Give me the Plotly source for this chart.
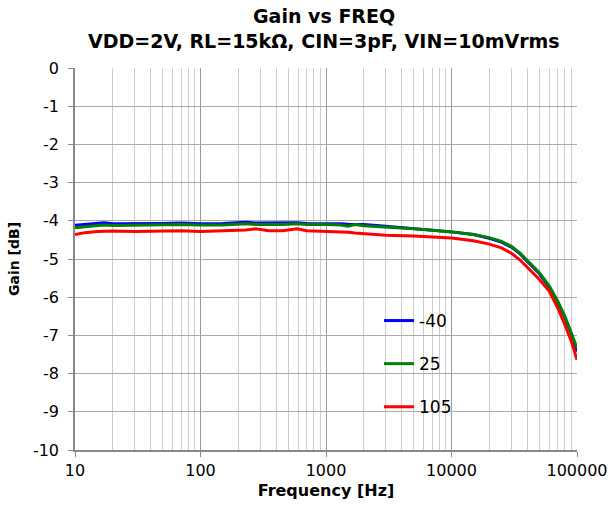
import plotly.graph_objects as go

freq = [10, 12, 15, 17, 20, 30, 50, 70, 100, 150, 230, 275, 350, 450, 590, 700,
        1000, 1300, 1500, 1700, 2000, 3000, 5000, 7000, 10000, 15000, 20000,
        25000, 30000, 35000, 40000, 45000, 50000, 60000, 70000, 80000, 90000, 100000]

gain_m40 = [-4.12, -4.10, -4.08, -4.05, -4.08, -4.08, -4.07, -4.06, -4.08, -4.07, -4.04,
            -4.06, -4.06, -4.06, -4.05, -4.07, -4.07, -4.08, -4.09, -4.09, -4.10, -4.14,
            -4.20, -4.24, -4.29, -4.36, -4.46, -4.56, -4.69, -4.86, -5.06, -5.22, -5.38,
            -5.73, -6.12, -6.53, -6.95, -7.42]
gain_25 = [-4.18, -4.15, -4.12, -4.11, -4.12, -4.11, -4.11, -4.10, -4.11, -4.11, -4.08,
           -4.10, -4.10, -4.10, -4.08, -4.10, -4.10, -4.11, -4.14, -4.10, -4.13, -4.16,
           -4.21, -4.25, -4.29, -4.36, -4.44, -4.54, -4.67, -4.84, -5.04, -5.20, -5.35,
           -5.70, -6.10, -6.50, -6.92, -7.33]
gain_105 = [-4.36, -4.31, -4.28, -4.27, -4.27, -4.28, -4.27, -4.26, -4.28, -4.27, -4.24,
            -4.21, -4.26, -4.26, -4.21, -4.26, -4.27, -4.29, -4.30, -4.32, -4.34, -4.38,
            -4.40, -4.42, -4.45, -4.52, -4.61, -4.71, -4.85, -5.02, -5.22, -5.38, -5.53,
            -5.84, -6.27, -6.72, -7.15, -7.64]

series_names = ["-40", "25", "105"]
series_colors = ["#0000FF", "#008000", "#FF0000"]

title_lines = ["Gain vs FREQ", "VDD=2V, RL=15kΩ, CIN=3pF, VIN=10mVrms"]

x_tickvals = [10, 100, 1000, 10000, 100000]
x_ticktext = ["10", "100", "1000", "10000", "100000"]
y_tickvals = list(range(-10, 1))
y_ticktext = ["-10", "-9", "-8", "-7", "-6", "-5", "-4", "-3", "-2", "-1", "0"]

FONT = "DejaVu Sans, Liberation Sans, Arial, sans-serif"
L, R, T, B = 75, 577, 68, 450
PW, PH = R - L, B - T

fig = go.Figure()
for name, ys, col in zip(series_names, [gain_m40, gain_25, gain_105], series_colors):
    fig.add_trace(go.Scatter(x=freq, y=ys, mode="lines", name=name, legendgroup=name,
                             line=dict(color=col, width=3)))

annotations = []
for txt, ypx in zip(title_lines, [16, 41]):
    annotations.append(dict(text=f"<b>{txt}</b>", xref="paper", yref="paper",
                            x=(324 - L) / PW, y=(B - ypx) / PH,
                            xanchor="center", yanchor="middle", showarrow=False,
                            font=dict(size=19, family=FONT, color="black")))

fig.update_layout(
    width=611, height=514,
    margin=dict(l=L, r=611 - R, t=T, b=514 - B, autoexpand=False),
    paper_bgcolor="white", plot_bgcolor="white",
    font=dict(family=FONT, color="black"),
    showlegend=True,
    legend=dict(x=(379 - L) / PW, xanchor="left", y=(B - 303) / PH, yanchor="top",
                bgcolor="rgba(0,0,0,0)", borderwidth=0, tracegroupgap=18,
                font=dict(size=17, family=FONT)),
    annotations=annotations,
    shapes=[dict(type="rect", xref="paper", yref="paper",
                 x0=(368 - L) / PW, x1=(500 - L) / PW,
                 y0=(B - 428) / PH, y1=(B - 298) / PH,
                 fillcolor="white", line=dict(width=0), layer="between")],
)

fig.update_xaxes(
    type="log", range=[1, 5], automargin=False,
    tickvals=x_tickvals, ticktext=x_ticktext,
    showgrid=True, gridcolor="#999999", gridwidth=1,
    minor=dict(dtick="D1", showgrid=True, gridcolor="#cccccc", gridwidth=1, ticks=""),
    showline=True, linecolor="#888888", linewidth=1.5,
    ticks="outside", ticklen=5, tickcolor="#888888",
    tickfont=dict(size=16, family=FONT),
    title=dict(text="<b>Frequency [Hz]</b>", font=dict(size=16, family=FONT), standoff=6),
    zeroline=False,
)
fig.update_yaxes(
    range=[-10, 0], tickvals=y_tickvals, ticktext=y_ticktext, automargin=False,
    showgrid=True, gridcolor="#aaaaaa", gridwidth=1,
    showline=True, linecolor="#888888", linewidth=1.5,
    ticks="outside", ticklen=5, tickcolor="#888888", ticklabelstandoff=6,
    tickfont=dict(size=16, family=FONT),
    title=dict(text="<b>Gain [dB]</b>", font=dict(size=14, family=FONT), standoff=10),
    zeroline=False,
)

fig.write_html("out.html", config={"displayModeBar": False},
               post_script="document.body.style.margin='0px';")
